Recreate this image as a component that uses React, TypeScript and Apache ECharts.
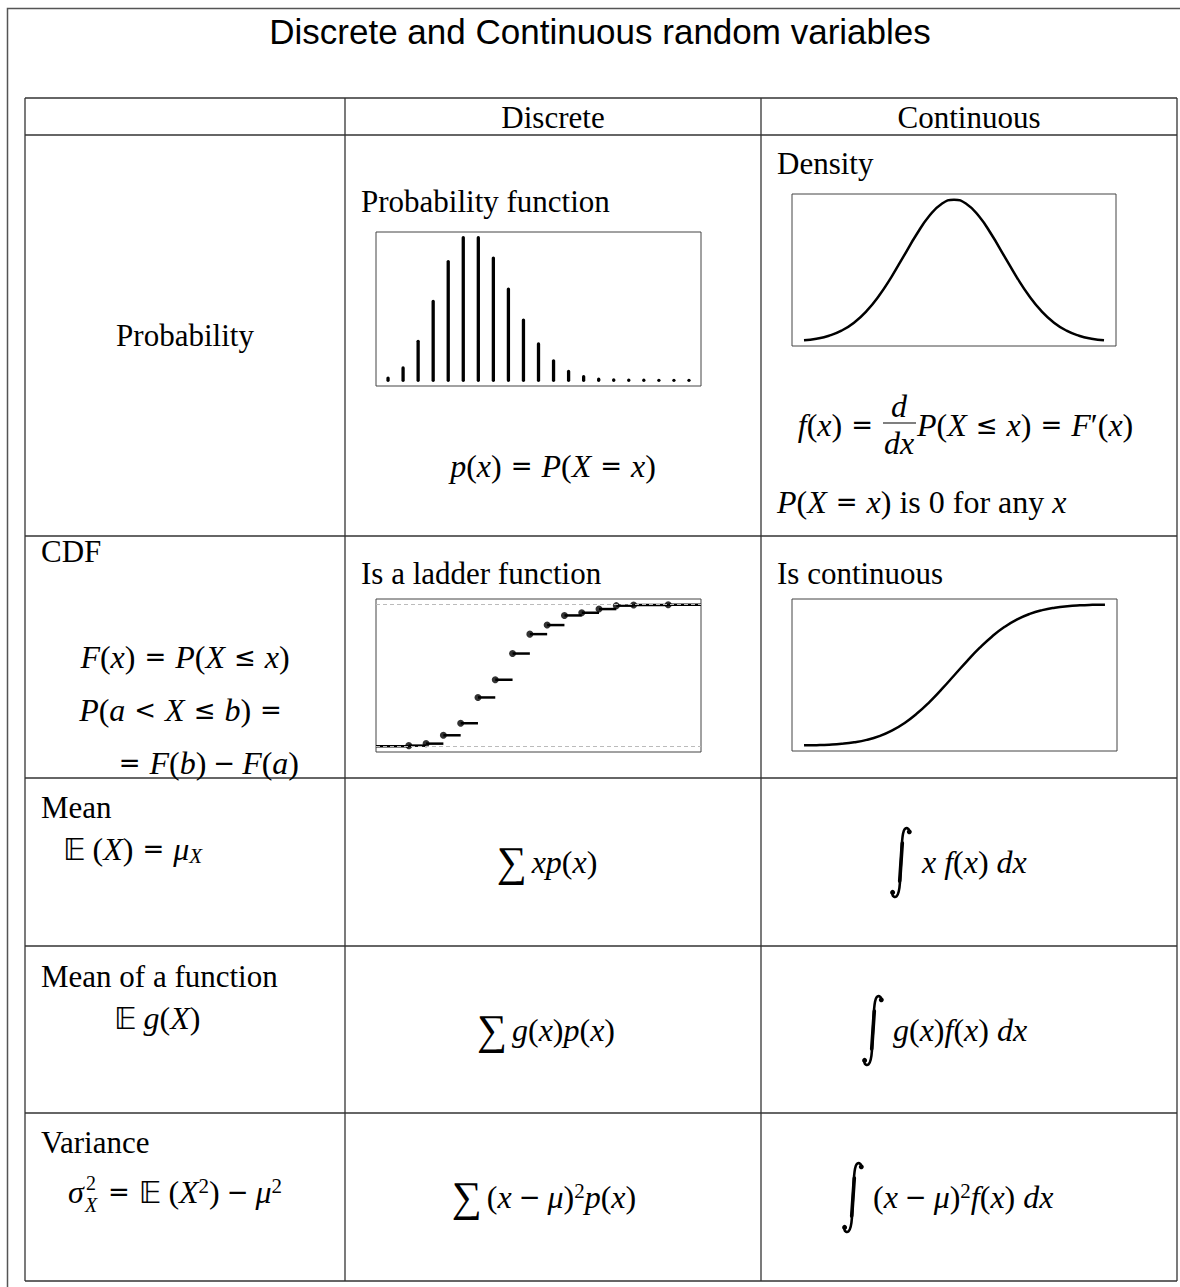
import React, { useEffect, useRef } from "react";
import * as echarts from "echarts";

// ---------------- data ----------------
const TITLE = "Discrete and Continuous random variables";
const COLUMN_HEADERS = ["Discrete", "Continuous"];
const ROW_LABELS = ["Probability", "CDF", "Mean", "Mean of a function", "Variance"];

// probability function (discrete)
const pmfX = [0, 1, 2, 3, 4, 5, 6, 7, 8, 9, 10, 11, 12, 13, 14, 15, 16, 17, 18, 19, 20];
const pmfP = [0.0025, 0.014, 0.044, 0.089, 0.134, 0.161, 0.161, 0.138, 0.103, 0.068, 0.041, 0.022, 0.01, 0.004, 0.0013, 0.0005, 0.0002, 0.0001, 0, 0, 0];

// ladder (empirical CDF)
const ecdfKnots = [0, 1, 2, 3, 4, 5, 6, 7, 8, 9, 10, 11, 12, 13, 15];
const ecdfValues = [0.005, 0.019, 0.078, 0.163, 0.345, 0.47, 0.655, 0.792, 0.856, 0.924, 0.943, 0.969, 0.993, 0.998, 1.0];

// continuous density and CDF
const contX = [-3, -2.75, -2.5, -2.25, -2, -1.75, -1.5, -1.25, -1, -0.75, -0.5, -0.25, 0, 0.25, 0.5, 0.75, 1, 1.25, 1.5, 1.75, 2, 2.25, 2.5, 2.75, 3];
const densY = [0.0044, 0.0091, 0.0175, 0.0317, 0.054, 0.0863, 0.1295, 0.1826, 0.242, 0.3011, 0.3521, 0.3867, 0.3989, 0.3867, 0.3521, 0.3011, 0.242, 0.1826, 0.1295, 0.0863, 0.054, 0.0317, 0.0175, 0.0091, 0.0044];
const cdfY = [0.0013, 0.003, 0.0062, 0.0122, 0.0228, 0.0401, 0.0668, 0.1057, 0.1587, 0.2266, 0.3085, 0.4013, 0.5, 0.5987, 0.6915, 0.7734, 0.8413, 0.8944, 0.9332, 0.9599, 0.9772, 0.9878, 0.9938, 0.997, 0.9987];

// ---------------- styles ----------------
const SERIF = '"Liberation Serif", "Times New Roman", serif';
const SYM = '"DejaVu Sans", sans-serif';
const SANS = '"Liberation Sans", Arial, sans-serif';
const FS = 31;
const MFS = 32;
const LINE = "#333";

const INTEGRAL_D =
  "M19.5 4.2 C18.8 1.2 16.2 0.2 14.6 2.2 C13.2 4 12.6 8 12.1 14 L9.9 56 C9.4 63 8.6 67.5 6.6 69.3 C5 70.6 2.8 69.8 2.4 67.6";
const INTEGRAL_STEM_D = "M12.3 16 L9.7 54";
echarts.graphic.registerShape("integral", echarts.graphic.extendPath(INTEGRAL_D, {}));
echarts.graphic.registerShape("integralStem", echarts.graphic.extendPath(INTEGRAL_STEM_D, {}));

const rich: any = {
  r: { fontFamily: SERIF, fontSize: MFS, lineHeight: 40, fill: "#000" },
  i: { fontFamily: SERIF, fontSize: MFS, fontStyle: "italic", lineHeight: 40, fill: "#000" },
  rel: { fontFamily: SYM, fontSize: 26, lineHeight: 40, padding: [0, 9], fill: "#000" },
  bin: { fontFamily: SYM, fontSize: 26, lineHeight: 40, padding: [0, 7], fill: "#000" },
  sup: { fontFamily: SERIF, fontSize: 21, height: 27, lineHeight: 27, verticalAlign: "top", fill: "#000" },
  sub: { fontFamily: SERIF, fontSize: 21, fontStyle: "italic", height: 27, lineHeight: 27, verticalAlign: "bottom", fill: "#000" },
  bb: { fontFamily: SYM, fontSize: 31, lineHeight: 40, padding: [0, 7, 0, 0], fill: "#000" },
  sum: { fontFamily: SERIF, fontSize: 42, lineHeight: 40, padding: [0, 5, 0, 0], fill: "#000" },
};

function plain(x: number, y: number, text: string, align = "left", size = FS, family = SERIF, italic = false): any {
  return {
    type: "text",
    x,
    y,
    z: 10,
    style: {
      text,
      align,
      verticalAlign: "middle",
      fontFamily: family,
      fontSize: size,
      fontStyle: italic ? "italic" : "normal",
      fill: "#000",
    },
  };
}
function math(x: number, y: number, text: string, align = "left"): any {
  return {
    type: "text",
    x,
    y,
    z: 10,
    style: { text, align, verticalAlign: "middle", fontFamily: SERIF, fontSize: MFS, fill: "#000", rich },
  };
}
function integral(x: number, y: number): any[] {
  return [
    { type: "integral", x, y, z: 10, style: { stroke: "#000", lineWidth: 2.6, fill: "none", lineCap: "round" } },
    { type: "integralStem", x, y, z: 10, style: { stroke: "#000", lineWidth: 3.6, fill: "none", lineCap: "round" } },
    { type: "circle", x: x + 19.3, y: y + 4.8, z: 10, shape: { cx: 0, cy: 0, r: 2.5 }, style: { fill: "#000" } },
    { type: "circle", x: x + 2.6, y: y + 65.4, z: 10, shape: { cx: 0, cy: 0, r: 2.5 }, style: { fill: "#000" } },
  ];
}

const ROW_LINES = [98, 135, 536, 778, 946, 1113, 1281];
const COL_LINES = [25, 345, 761, 1177];

function buildGraphics(): any[] {
  const els: any[] = [];
  // outer frame
  els.push({
    type: "rect",
    shape: { x: 7.5, y: 8.5, width: 1300, height: 1400 },
    style: { fill: "none", stroke: "#555", lineWidth: 1.5 },
  });
  ROW_LINES.forEach((y) =>
    els.push({ type: "line", shape: { x1: COL_LINES[0], y1: y, x2: COL_LINES[3], y2: y }, style: { stroke: LINE, lineWidth: 1.3 } })
  );
  COL_LINES.forEach((x) =>
    els.push({ type: "line", shape: { x1: x, y1: ROW_LINES[0], x2: x, y2: ROW_LINES[6] }, style: { stroke: LINE, lineWidth: 1.3 } })
  );

  // title + headers
  els.push(plain(600, 31, TITLE, "center", 35, SANS));
  els.push(plain(553, 117, COLUMN_HEADERS[0], "center"));
  els.push(plain(969, 117, COLUMN_HEADERS[1], "center"));

  // Row 1: probability
  els.push(plain(185, 335, ROW_LABELS[0], "center"));
  els.push(plain(361, 201, "Probability function"));
  els.push(math(553, 466, "{i|p}{r|(}{i|x}{r|)}{rel|=}{i|P}{r|(}{i|X}{rel|=}{i|x}{r|)}", "center"));
  els.push(plain(777, 163, "Density"));
  els.push(math(882, 425, "{i|f}{r|(}{i|x}{r|)}{rel|=}", "right"));
  els.push(plain(899, 406, "d", "center", MFS, SERIF, true));
  els.push({ type: "line", shape: { x1: 883, y1: 423, x2: 916, y2: 423 }, style: { stroke: "#000", lineWidth: 1.2 } });
  els.push(plain(899, 443, "dx", "center", MFS, SERIF, true));
  els.push(math(917, 425, "{i|P}{r|(}{i|X}{rel|≤}{i|x}{r|)}{rel|=}{i|F}{r|′(}{i|x}{r|)}"));
  els.push(math(777, 502, "{i|P}{r|(}{i|X}{rel|=}{i|x}{r|) is 0 for any }{i|x}"));

  // Row 2: CDF
  els.push(plain(41, 551, ROW_LABELS[1]));
  els.push(math(185, 657, "{i|F}{r|(}{i|x}{r|)}{rel|=}{i|P}{r|(}{i|X}{rel|≤}{i|x}{r|)}", "center"));
  els.push(math(185, 710, "{i|P}{r|(}{i|a}{rel|<}{i|X}{rel|≤}{i|b}{r|)}{rel|=}", "center"));
  els.push(math(299, 763, "{rel|=}{i|F}{r|(}{i|b}{r|)}{bin|−}{i|F}{r|(}{i|a}{r|)}", "right"));
  els.push(plain(361, 573, "Is a ladder function"));
  els.push(plain(777, 573, "Is continuous"));

  // Row 3: mean
  els.push(plain(41, 807, ROW_LABELS[2]));
  els.push(math(63, 849, "{bb|𝔼}{r|(}{i|X}{r|)}{rel|=}{i|μ}{sub|X}"));
  els.push(math(547, 862, "{sum|∑}{i|xp}{r|(}{i|x}{r|)}", "center"));
  els.push(...integral(890, 827));
  els.push(math(922, 862, "{i|x f}{r|(}{i|x}{r|) }{i|dx}"));

  // Row 4: mean of a function
  els.push(plain(41, 976, ROW_LABELS[3]));
  els.push(math(114, 1018, "{bb|𝔼}{i|g}{r|(}{i|X}{r|)}"));
  els.push(math(546, 1030, "{sum|∑}{i|g}{r|(}{i|x}{r|)}{i|p}{r|(}{i|x}{r|)}", "center"));
  els.push(...integral(862, 995));
  els.push(math(893, 1030, "{i|g}{r|(}{i|x}{r|)}{i|f}{r|(}{i|x}{r|) }{i|dx}"));

  // Row 5: variance
  els.push(plain(41, 1142, ROW_LABELS[4]));
  els.push(math(68, 1192, "{i|σ}"));
  els.push(plain(86, 1183, "2", "left", 20, SERIF));
  els.push(plain(85, 1205, "X", "left", 20, SERIF, true));
  els.push(math(99, 1192, "{rel|=}{bb|𝔼}{r|(}{i|X}{sup|2}{r|)}{bin|−}{i|μ}{sup|2}"));
  els.push(math(544, 1197, "{sum|∑}{r|(}{i|x}{bin|−}{i|μ}{r|)}{sup|2}{i|p}{r|(}{i|x}{r|)}", "center"));
  els.push(...integral(842, 1162));
  els.push(math(873, 1197, "{r|(}{i|x}{bin|−}{i|μ}{r|)}{sup|2}{i|f}{r|(}{i|x}{r|) }{i|dx}"));
  return els;
}

const pad = (v: { min: number; max: number }) => v.min - 0.04 * (v.max - v.min);
const padMax = (v: { min: number; max: number }) => v.max + 0.04 * (v.max - v.min);

function buildOption(): any {
  // R-style step function limits
  const rx = ecdfKnots[ecdfKnots.length - 1] - ecdfKnots[0];
  const dr = Math.max(0.08 * rx, 1);
  const lo = ecdfKnots[0] - dr;
  const hi = ecdfKnots[ecdfKnots.length - 1] + dr;
  const ecdfMin = lo - 0.04 * (hi - lo);
  const ecdfMax = hi + 0.04 * (hi - lo);
  const segs: number[][] = [[ecdfMin, ecdfKnots[0], 0]];
  ecdfKnots.forEach((k, i) => segs.push([k, i < ecdfKnots.length - 1 ? ecdfKnots[i + 1] : ecdfMax, ecdfValues[i]]));

  const gridBase = { show: true, borderColor: "#444", borderWidth: 1, backgroundColor: "transparent" };
  return {
    animation: false,
    grid: [
      { ...gridBase, left: 376, top: 232, width: 325, height: 154 },
      { ...gridBase, left: 792, top: 194, width: 324, height: 152 },
      { ...gridBase, left: 376, top: 599, width: 325, height: 153 },
      { ...gridBase, left: 792, top: 599, width: 325, height: 152 },
    ],
    xAxis: [
      { type: "value", gridIndex: 0, show: false, min: pad, max: padMax },
      { type: "value", gridIndex: 1, show: false, min: pad, max: padMax },
      { type: "value", gridIndex: 2, show: false, min: ecdfMin, max: ecdfMax },
      { type: "value", gridIndex: 3, show: false, min: pad, max: padMax },
    ],
    yAxis: [
      { type: "value", gridIndex: 0, show: false, min: pad, max: padMax },
      { type: "value", gridIndex: 1, show: false, min: pad, max: padMax },
      { type: "value", gridIndex: 2, show: false, min: -0.04, max: 1.04 },
      { type: "value", gridIndex: 3, show: false, min: pad, max: padMax },
    ],
    series: [
      {
        type: "custom",
        xAxisIndex: 0,
        yAxisIndex: 0,
        encode: { x: 0, y: 1 },
        data: pmfX.map((x, i) => [x, pmfP[i]]),
        renderItem: (_p: any, api: any) => {
          const x = api.value(0);
          const v = api.value(1);
          const a = api.coord([x, 0]);
          const b = api.coord([x, v]);
          return {
            type: "line",
            shape: { x1: a[0], y1: a[1], x2: b[0], y2: Math.min(b[1], a[1] - 0.01) },
            style: { stroke: "#000", lineWidth: 3.3, lineCap: "round" },
          };
        },
      },
      {
        type: "line",
        xAxisIndex: 1,
        yAxisIndex: 1,
        data: contX.map((x, i) => [x, densY[i]]),
        smooth: true,
        symbol: "none",
        lineStyle: { color: "#000", width: 2.5 },
      },
      {
        type: "custom",
        xAxisIndex: 2,
        yAxisIndex: 2,
        encode: { x: [0, 1], y: 2 },
        data: segs,
        renderItem: (_p: any, api: any) => {
          const a = api.coord([api.value(0), api.value(2)]);
          const b = api.coord([api.value(1), api.value(2)]);
          return {
            type: "line",
            shape: { x1: a[0], y1: a[1], x2: b[0], y2: b[1] },
            style: { stroke: "#000", lineWidth: 2.5 },
          };
        },
      },
      {
        type: "scatter",
        xAxisIndex: 2,
        yAxisIndex: 2,
        data: ecdfKnots.map((k, i) => [k, ecdfValues[i]]),
        symbolSize: 7,
        itemStyle: { color: "#000" },
        markLine: {
          silent: true,
          symbol: "none",
          label: { show: false },
          lineStyle: { color: "#bbb", type: [4, 3], width: 1 },
          data: [{ yAxis: 0 }, { yAxis: 1 }],
        },
      },
      {
        type: "line",
        xAxisIndex: 3,
        yAxisIndex: 3,
        data: contX.map((x, i) => [x, cdfY[i]]),
        smooth: true,
        symbol: "none",
        lineStyle: { color: "#000", width: 2.5 },
      },
    ],
    graphic: { elements: buildGraphics() },
  };
}

export default function App() {
  const ref = useRef<HTMLDivElement>(null);
  useEffect(() => {
    if (!ref.current) return;
    const chart = echarts.init(ref.current, undefined, { renderer: "svg" });
    chart.setOption(buildOption());
    return () => chart.dispose();
  }, []);
  return (
    <div
      ref={ref}
      style={{ position: "fixed", left: 0, top: 0, width: 1180, height: 1287, background: "#fff" }}
    />
  );
}
